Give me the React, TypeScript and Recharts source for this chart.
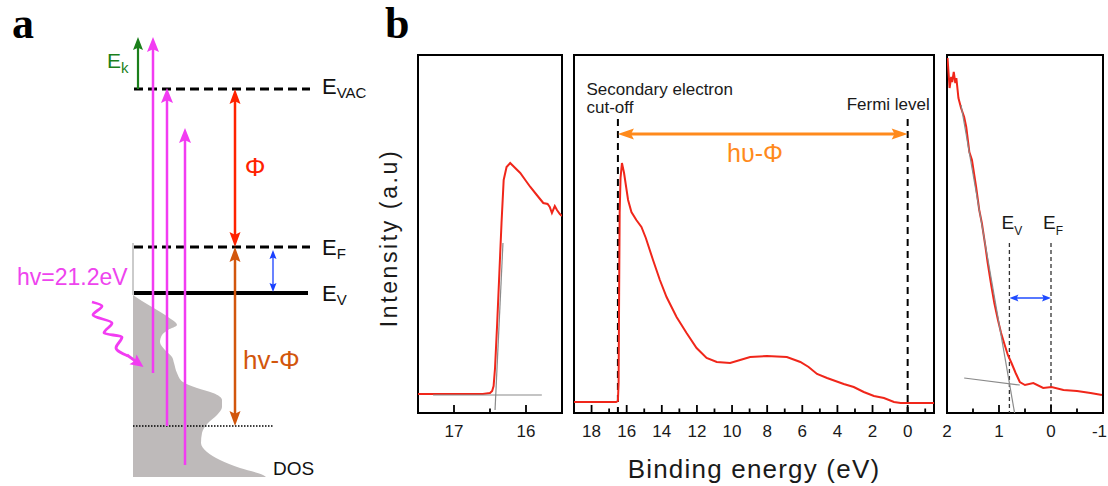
import React from 'react';
import {
  ComposedChart,
  LineChart,
  Line,
  Area,
  XAxis,
  YAxis,
  ReferenceLine,
  ReferenceDot,
  ReferenceArea,
} from 'recharts';

const SANS = '"Liberation Sans", Arial, Helvetica, sans-serif';
const SERIF = '"Liberation Serif", "Times New Roman", serif';

// ================= Panel a : energy diagram (diagram units, vertical axis grows downward) =================
const levelNames = ['VAC', 'F', 'V'];
const levelPos = [89, 247, 293];
const levelStart = [134, 134, 134];
const levelEnd = [310, 310, 308];
const levelLabelX = 322;
const levelLabelBase = [94, 255, 301];
const deepLevel = [133, 273, 426]; // x from, x to, position

const dosPos = [295, 301, 307, 317, 325, 330, 335, 342, 350, 357, 363, 373, 382, 388, 393, 400, 407, 415, 423, 433, 443, 452, 460, 468, 475, 477];
const dosWidth = [133, 142, 152, 168, 177, 168, 162, 160, 165, 172, 174, 177, 183, 197, 213, 222, 222, 217, 208, 202, 201, 207, 220, 240, 263, 266];
const dosBase = 133;

const photonX = [153, 167, 185];
const photonFrom = [373, 426, 465];
const photonTo = [37, 88, 128];

const kineticArrow = [138, 89, 37];
const phiArrow = [235, 89, 247];
const hvPhiArrow = [235, 247, 426];
const gapArrow = [273, 250, 292];

const waveX = [92, 102, 93, 112, 104, 122, 116, 128];
const wavePos = [302, 306, 315, 323, 333, 337, 348, 356];
const waveHead = [127, 355, 143.5, 367];

// ================= Panel b : UPS spectra =================
// secondary-electron cut-off (zoom)
const cutBE = [17.5, 16.6, 16.5, 16.47, 16.45, 16.43, 16.4, 16.37, 16.34, 16.31, 16.27, 16.22, 16.15, 16.08, 16.0, 15.94, 15.85, 15.76, 15.7, 15.67, 15.64, 15.6, 15.57, 15.53, 15.5];
const cutI = [19, 19, 20, 22, 27, 45, 90, 140, 190, 233, 246, 250, 245, 240, 232, 226, 218, 210, 209, 206, 200, 207, 203, 199, 197];
const cutEdgeFitBE = [16.43, 16.32];
const cutEdgeFitI = [3, 170];
const cutBaseFitBE = [17.29, 15.78];
const cutBaseFitI = [18, 18];
const cutTicks = [17, 16.5, 16];
const cutMajor = [17, 16];

// full spectrum
const wideBE = [19.0, 16.6, 16.5, 16.46, 16.43, 16.4, 16.35, 16.27, 16.15, 15.92, 15.73, 15.45, 15.16, 14.91, 14.5, 14.11, 13.73, 13.16, 12.59, 12.02, 11.45, 10.87, 10.11, 9.54, 8.97, 8.02, 6.88, 6.11, 5.64, 5.16, 4.59, 3.64, 3.07, 2.5, 1.92, 1.35, 0.78, 0.4, -1.5];
const wideI = [11, 11, 12, 30, 120, 200, 235, 250, 240, 213, 201, 193, 186, 175, 153, 133, 116, 96, 80, 65, 55, 51, 50, 53, 56, 57, 56, 51, 46, 39, 35, 29, 26, 21, 17, 15, 11, 10, 10];
const cutoffBE = 16.5;
const fermiBE = 0;
const markerTop = 294;
const arrowLevel = 279;
const wideTicks = [18, 17, 16, 15, 14, 13, 12, 11, 10, 9, 8, 7, 6, 5, 4, 3, 2, 1, 0, -1];
const wideMajor = [18, 16, 14, 12, 10, 8, 6, 4, 2, 0];

// valence-band edge (zoom)
const vbBE = [1.99, 1.97, 1.95, 1.92, 1.9, 1.87, 1.84, 1.82, 1.78, 1.73, 1.67, 1.63, 1.57, 1.52, 1.44, 1.38, 1.33, 1.26, 1.22, 1.15, 1.09, 1.02, 0.96, 0.89, 0.83, 0.76, 0.68, 0.6, 0.5, 0.34, 0.15, -0.01, -0.24, -0.5, -0.76, -0.98];
const vbI = [355, 340, 325, 336, 331, 341, 330, 335, 315, 305, 296, 286, 261, 253, 226, 203, 190, 166, 151, 128, 110, 93, 80, 68, 58, 50, 40, 31, 28, 30, 25, 26, 23, 22, 20, 18];
const vbEdgeFitBE = [1.73, 0.7];
const vbEdgeFitI = [308, 0];
const vbBaseFitBE = [1.67, 0.6];
const vbBaseFitI = [35, 28];
const evBE = 0.8;
const efBE = 0;
const vbMarkerTop = 170;
const vbArrowLevel = 115;
const vbTicks = [2, 1.5, 1, 0.5, 0, -0.5, -1];
const vbMajor = [2, 1, 0, -1];

// ================= helpers =================
function arrowShape(color: string, width: number, head: [number, number], both: boolean) {
  return (p: any) => {
    const { x1, y1, x2, y2 } = p;
    const dx = x2 - x1;
    const dy = y2 - y1;
    const len = Math.hypot(dx, dy) || 1;
    const ux = dx / len;
    const uy = dy / len;
    const nx = -uy;
    const ny = ux;
    const [hl, hw] = head;
    const tri = (tx: number, ty: number, sx: number, sy: number) => {
      const bx = tx - sx * hl;
      const by = ty - sy * hl;
      const mx = tx - sx * hl * 0.82;
      const my = ty - sy * hl * 0.82;
      return `${tx},${ty} ${bx + (nx * hw) / 2},${by + (ny * hw) / 2} ${mx},${my} ${bx - (nx * hw) / 2},${by - (ny * hw) / 2}`;
    };
    const sx = both ? x1 + ux * hl * 0.7 : x1;
    const sy = both ? y1 + uy * hl * 0.7 : y1;
    return (
      <g>
        <line x1={sx} y1={sy} x2={x2 - ux * hl * 0.7} y2={y2 - uy * hl * 0.7} stroke={color} strokeWidth={width} />
        <polygon points={tri(x2, y2, ux, uy)} fill={color} />
        {both ? <polygon points={tri(x1, y1, -ux, -uy)} fill={color} /> : null}
      </g>
    );
  };
}

const txt = (key: string, x: number, y: number, node: React.ReactNode, style: Record<string, any>) => (
  <ReferenceDot
    key={key}
    x={x}
    y={y}
    r={0}
    ifOverflow="visible"
    shape={(p: any) => (
      <text x={p.cx} y={p.cy} {...style}>
        {node}
      </text>
    )}
  />
);

function tickRenderer(majors: number[], lastEnd?: number) {
  return (props: any) => {
    const { x, y, payload } = props;
    const v = Number(payload.value);
    const major = majors.some((m) => Math.abs(m - v) < 1e-9);
    const atEnd = lastEnd !== undefined && Math.abs(v - lastEnd) < 1e-9;
    return (
      <g>
        <line x1={x} x2={x} y1={y} y2={y - (major ? 8 : 4.5)} stroke="#000" strokeWidth={1.8} />
        {major ? (
          <text
            x={atEnd ? x + 4 : x}
            y={y + 24}
            textAnchor={atEnd ? 'end' : 'middle'}
            fontFamily={SANS}
            fontSize={17}
            fill="#1a1a1a"
          >
            {String(v)}
          </text>
        ) : null}
      </g>
    );
  };
}

const pairs = (a: number[], b: number[]) => a.map((be, i) => ({ be, i: b[i] }));

// ================= Panel a =================
function PanelA() {
  const dos = dosPos.map((e, i) => ({ e, w: dosWidth[i] }));
  const wave = wavePos.map((e, i) => ({ e, w: waveX[i] }));
  const magenta = '#f23cf2';
  return (
    <ComposedChart width={380} height={486} layout="vertical" margin={{ top: 0, right: 0, bottom: 0, left: 0 }}>
      <XAxis type="number" domain={[0, 380]} hide allowDataOverflow />
      <YAxis type="number" dataKey="e" domain={[0, 486]} hide allowDataOverflow />
      <Area
        data={dos}
        dataKey="w"
        type="monotone"
        baseValue={dosBase}
        stroke="none"
        fill="#bebaba"
        fillOpacity={1}
        dot={false}
        activeDot={false}
        isAnimationActive={false}
      />
      <ReferenceLine
        ifOverflow="visible"
        segment={[{ x: dosBase, y: 243 }, { x: dosBase, y: dosPos[0] }]}
        stroke="#a8a8a8"
        strokeWidth={1.2}
      />
      {levelPos.map((pos, i) => (
        <ReferenceLine
          key={'lv' + i}
          ifOverflow="visible"
          segment={[{ x: levelStart[i], y: pos }, { x: levelEnd[i], y: pos }]}
          stroke="#000"
          strokeWidth={i === 2 ? 4 : 3}
          strokeDasharray={i === 2 ? undefined : '9 5'}
        />
      ))}
      <ReferenceLine
        ifOverflow="visible"
        segment={[{ x: deepLevel[0], y: deepLevel[2] }, { x: deepLevel[1], y: deepLevel[2] }]}
        stroke="#000"
        strokeWidth={1.4}
        strokeDasharray="1.5 1.5"
      />
      <Line data={wave} dataKey="w" type="monotone" stroke={magenta} strokeWidth={2.8} dot={false} activeDot={false} isAnimationActive={false} />
      <ReferenceLine
        ifOverflow="visible"
        segment={[{ x: waveHead[0], y: waveHead[1] }, { x: waveHead[2], y: waveHead[3] }]}
        shape={arrowShape(magenta, 2.8, [13, 12], false)}
      />
      {photonX.map((x, i) => (
        <ReferenceLine
          key={'ph' + i}
          ifOverflow="visible"
          segment={[{ x, y: photonFrom[i] }, { x, y: photonTo[i] }]}
          shape={arrowShape(magenta, 2.5, [15, 12], false)}
        />
      ))}
      <ReferenceLine
        ifOverflow="visible"
        segment={[{ x: kineticArrow[0], y: kineticArrow[1] }, { x: kineticArrow[0], y: kineticArrow[2] }]}
        shape={arrowShape('#1b7f1b', 2.2, [13, 10], false)}
      />
      <ReferenceLine
        ifOverflow="visible"
        segment={[{ x: phiArrow[0], y: phiArrow[1] }, { x: phiArrow[0], y: phiArrow[2] }]}
        shape={arrowShape('#ff2200', 2.5, [15, 11], true)}
      />
      <ReferenceLine
        ifOverflow="visible"
        segment={[{ x: hvPhiArrow[0], y: hvPhiArrow[1] }, { x: hvPhiArrow[0], y: hvPhiArrow[2] }]}
        shape={arrowShape('#d2560c', 2.5, [15, 11], true)}
      />
      <ReferenceLine
        ifOverflow="visible"
        segment={[{ x: gapArrow[0], y: gapArrow[1] }, { x: gapArrow[0], y: gapArrow[2] }]}
        shape={arrowShape('#1a40ff', 1.3, [9, 7], true)}
      />
      {txt('a', 12, 38, 'a', { fontFamily: SERIF, fontWeight: 700, fontSize: 44, fill: '#000' })}
      {txt(
        'ek',
        107,
        68,
        <>
          <tspan>E</tspan>
          <tspan fontSize={15} dy={5}>k</tspan>
        </>,
        { fontFamily: SANS, fontSize: 21, fill: '#1b7f1b' }
      )}
      {levelNames.map((n, i) =>
        txt(
          'lbl' + i,
          levelLabelX,
          levelLabelBase[i],
          <>
            <tspan>E</tspan>
            <tspan fontSize={15} dy={4}>{n}</tspan>
          </>,
          { fontFamily: SANS, fontSize: 22, fill: '#111' }
        )
      )}
      {txt('phi', 255, 176, 'Φ', { fontFamily: SANS, fontSize: 26, fill: '#ff2200', textAnchor: 'middle' })}
      {txt('hvphi', 243, 369, 'hv-Φ', { fontFamily: SANS, fontSize: 26, fill: '#d2560c' })}
      {txt('hv', 17, 285, 'hv=21.2eV', { fontFamily: SANS, fontSize: 23, fill: '#ee44ee' })}
      {txt('dos', 273, 475, 'DOS', { fontFamily: SANS, fontSize: 19, fill: '#111' })}
    </ComposedChart>
  );
}

// ================= Panel b =================
const RED = '#f0261a';
const GRAY = '#8a8a8a';

function CutoffPanel() {
  return (
    <LineChart width={210} height={486} margin={{ top: 55, right: 8, bottom: 43, left: 0 }}>
      <XAxis
        type="number"
        dataKey="be"
        domain={[15.5, 17.5]}
        reversed
        allowDataOverflow
        ticks={cutTicks}
        interval={0}
        axisLine={false}
        tickLine={false}
        tickSize={0}
        tickMargin={0}
        height={30}
        tick={tickRenderer(cutMajor)}
      />
      <YAxis
        type="number"
        domain={[0, 358]}
        allowDataOverflow
        width={58}
        axisLine={false}
        tickLine={false}
        tick={false}
        label={(p: any) => {
          const vb = p.viewBox;
          const cx = vb.x + vb.width / 2;
          const cy = vb.y + vb.height / 2 + 4;
          return (
            <text
              x={cx}
              y={cy}
              transform={`rotate(-90 ${cx} ${cy})`}
              textAnchor="middle"
              dominantBaseline="central"
              fontFamily={SANS}
              fontSize={23}
              letterSpacing={2.6}
              fill="#1a1a1a"
            >
              Intensity (a.u)
            </text>
          );
        }}
      />
      <ReferenceArea x1={15.5} x2={17.5} y1={0} y2={358} fill="none" fillOpacity={0} stroke="#000" strokeWidth={2} ifOverflow="visible" />
      <Line data={pairs(cutBE, cutI)} dataKey="i" type="linear" stroke={RED} strokeWidth={2} dot={false} isAnimationActive={false} />
      <Line data={pairs(cutEdgeFitBE, cutEdgeFitI)} dataKey="i" type="linear" stroke={GRAY} strokeWidth={1.2} dot={false} isAnimationActive={false} />
      <Line data={pairs(cutBaseFitBE, cutBaseFitI)} dataKey="i" type="linear" stroke={GRAY} strokeWidth={1.2} dot={false} isAnimationActive={false} />
    </LineChart>
  );
}

function WidePanel() {
  return (
    <LineChart width={380} height={486} margin={{ top: 55, right: 11, bottom: 43, left: 9 }}>
      <XAxis
        type="number"
        dataKey="be"
        domain={[-1.5, 19]}
        reversed
        allowDataOverflow
        ticks={wideTicks}
        interval={0}
        axisLine={false}
        tickLine={false}
        tickSize={0}
        tickMargin={0}
        height={30}
        tick={tickRenderer(wideMajor)}
        label={(p: any) => {
          const vb = p.viewBox;
          return (
            <text x={vb.x + vb.width / 2} y={478} textAnchor="middle" fontFamily={SANS} fontSize={26} letterSpacing={1.2} fill="#1a1a1a">
              Binding energy (eV)
            </text>
          );
        }}
      />
      <YAxis type="number" domain={[0, 358]} hide allowDataOverflow />
      <ReferenceArea x1={-1.5} x2={19} y1={0} y2={358} fill="none" fillOpacity={0} stroke="#000" strokeWidth={2} ifOverflow="visible" />
      <ReferenceLine ifOverflow="visible" segment={[{ x: cutoffBE, y: markerTop }, { x: cutoffBE, y: 0 }]} stroke="#000" strokeWidth={2} strokeDasharray="7 5" />
      <ReferenceLine ifOverflow="visible" segment={[{ x: fermiBE, y: markerTop }, { x: fermiBE, y: 0 }]} stroke="#000" strokeWidth={2} strokeDasharray="7 5" />
      <Line data={pairs(wideBE, wideI)} dataKey="i" type="linear" stroke={RED} strokeWidth={2} dot={false} isAnimationActive={false} />
      <ReferenceLine
        ifOverflow="visible"
        segment={[{ x: cutoffBE, y: arrowLevel }, { x: fermiBE, y: arrowLevel }]}
        shape={arrowShape('#ff8a1c', 3, [16, 11], true)}
      />
      {txt('sec1', 18.29, 318, 'Secondary electron', { fontFamily: SANS, fontSize: 17, fill: '#1a1a1a' })}
      {txt('sec2', 18.29, 300, 'cut-off', { fontFamily: SANS, fontSize: 17, fill: '#1a1a1a' })}
      {txt('fermi', -1.26, 303, 'Fermi level', { fontFamily: SANS, fontSize: 17, fill: '#1a1a1a', textAnchor: 'end' })}
      {txt('hu', 8.69, 251, 'hυ-Φ', { fontFamily: SANS, fontSize: 25, fill: '#ff8a1c', textAnchor: 'middle' })}
    </LineChart>
  );
}

function ValencePanel() {
  return (
    <LineChart width={170} height={486} margin={{ top: 55, right: 5, bottom: 43, left: 9 }}>
      <XAxis
        type="number"
        dataKey="be"
        domain={[-1, 2]}
        reversed
        allowDataOverflow
        ticks={vbTicks}
        interval={0}
        axisLine={false}
        tickLine={false}
        tickSize={0}
        tickMargin={0}
        height={30}
        tick={tickRenderer(vbMajor, -1)}
      />
      <YAxis type="number" domain={[0, 358]} hide allowDataOverflow />
      <ReferenceArea x1={-1} x2={2} y1={0} y2={358} fill="none" fillOpacity={0} stroke="#000" strokeWidth={2} ifOverflow="visible" />
      <ReferenceLine ifOverflow="visible" segment={[{ x: evBE, y: vbMarkerTop }, { x: evBE, y: 0 }]} stroke="#333" strokeWidth={1.3} strokeDasharray="4 3" />
      <ReferenceLine ifOverflow="visible" segment={[{ x: efBE, y: vbMarkerTop }, { x: efBE, y: 0 }]} stroke="#333" strokeWidth={1.3} strokeDasharray="4 3" />
      <Line data={pairs(vbBE, vbI)} dataKey="i" type="linear" stroke={RED} strokeWidth={2} dot={false} isAnimationActive={false} />
      <Line data={pairs(vbEdgeFitBE, vbEdgeFitI)} dataKey="i" type="linear" stroke={GRAY} strokeWidth={1.2} dot={false} isAnimationActive={false} />
      <Line data={pairs(vbBaseFitBE, vbBaseFitI)} dataKey="i" type="linear" stroke={GRAY} strokeWidth={1.2} dot={false} isAnimationActive={false} />
      <ReferenceLine
        ifOverflow="visible"
        segment={[{ x: evBE, y: vbArrowLevel }, { x: efBE, y: vbArrowLevel }]}
        shape={arrowShape('#1f4bff', 1.5, [9, 7], true)}
      />
      {txt(
        'ev',
        0.951,
        184,
        <>
          <tspan>E</tspan>
          <tspan fontSize={12} dy={6}>V</tspan>
        </>,
        { fontFamily: SANS, fontSize: 19, fill: '#1a1a1a' }
      )}
      {txt(
        'ef',
        0.155,
        184,
        <>
          <tspan>E</tspan>
          <tspan fontSize={12} dy={6}>F</tspan>
        </>,
        { fontFamily: SANS, fontSize: 19, fill: '#1a1a1a' }
      )}
    </LineChart>
  );
}

export default function App() {
  return (
    <div style={{ position: 'absolute', left: 0, top: 0, width: 1108, height: 486, background: '#fff', overflow: 'hidden' }}>
      <div style={{ position: 'absolute', left: 0, top: 0 }}>
        <PanelA />
      </div>
      <div style={{ position: 'absolute', left: 380, top: 0 }}>
        <svg width={40} height={50}>
          <text x={5} y={38} fontFamily={SERIF} fontWeight={700} fontSize={44} fill="#000">
            b
          </text>
        </svg>
      </div>
      <div style={{ position: 'absolute', left: 360, top: 0 }}>
        <CutoffPanel />
      </div>
      <div style={{ position: 'absolute', left: 565, top: 0 }}>
        <WidePanel />
      </div>
      <div style={{ position: 'absolute', left: 938, top: 0 }}>
        <ValencePanel />
      </div>
    </div>
  );
}
